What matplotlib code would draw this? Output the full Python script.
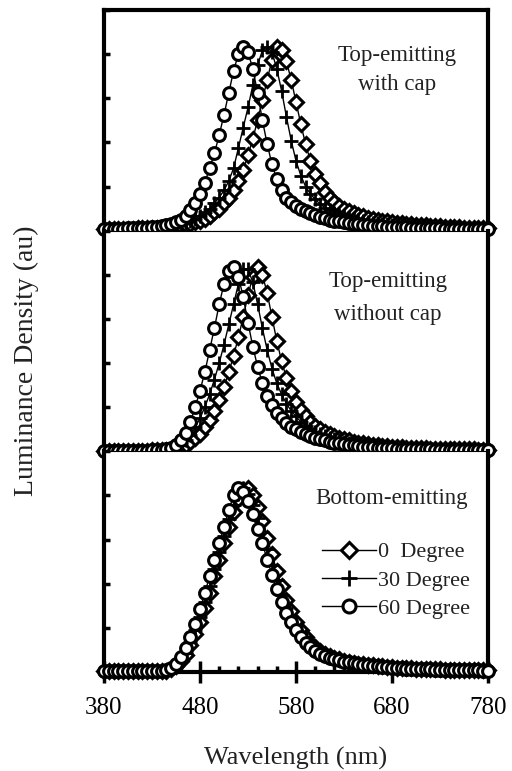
import numpy as np
import matplotlib
matplotlib.use("Agg")
import matplotlib.pyplot as plt
from matplotlib.ticker import MultipleLocator, FixedLocator

plt.rcParams["font.family"] = ["Liberation Serif", "DejaVu Serif"]

# wavelength grid (nm), 5 nm steps from 380 to 780
wavelength = np.arange(380, 785, 5)

# ---- Top-emitting with cap ----
cap_0deg = [
    .010, .010, .010, .010, .010, .010, .010, .012, .012, .013,
    .014, .015, .017, .019, .021, .024, .028, .032, .038, .045,
    .055, .065, .080, .100, .120, .150, .180, .220, .270, .330,
    .410, .500, .600, .710, .820, .930, 1.00, .980, .920, .820,
    .700, .580, .470, .380, .310, .260, .210, .180, .155, .135,
    .120, .105, .095, .085, .078, .070, .065, .060, .055, .050,
    .047, .044, .041, .038, .035, .033, .031, .029, .027, .025,
    .023, .022, .020, .019, .018, .017, .016, .015, .014, .013,
    .012]
cap_30deg = [
    .010, .010, .010, .010, .010, .010, .011, .012, .013, .014,
    .016, .018, .020, .023, .026, .030, .036, .044, .054, .066,
    .080, .100, .120, .150, .180, .220, .270, .340, .450, .560,
    .670, .790, .900, .980, 1.00, .970, .880, .760, .620, .490,
    .380, .300, .240, .200, .170, .145, .125, .110, .097, .087,
    .078, .070, .063, .057, .052, .048, .044, .041, .038, .035,
    .033, .031, .029, .027, .025, .024, .022, .021, .020, .019,
    .018, .017, .016, .015, .014, .014, .013, .012, .012, .011,
    .011]
cap_60deg = [
    .010, .010, .010, .010, .010, .012, .012, .014, .015, .017,
    .020, .022, .025, .030, .035, .045, .060, .080, .110, .150,
    .200, .260, .340, .420, .520, .630, .750, .870, .960, 1.00,
    .970, .880, .750, .600, .470, .360, .280, .220, .180, .155,
    .135, .120, .105, .095, .085, .075, .068, .060, .055, .050,
    .045, .041, .038, .035, .032, .030, .028, .026, .024, .022,
    .021, .020, .019, .018, .017, .016, .015, .014, .013, .012,
    .012, .011, .010, .010, .010, .009, .009, .008, .008, .008,
    .008]

# ---- Top-emitting without cap ----
nocap_0deg = [
    .003, .003, .003, .003, .003, .003, .003, .003, .004, .004,
    .005, .006, .007, .008, .012, .018, .026, .036, .050, .070,
    .095, .130, .170, .220, .280, .350, .430, .520, .620, .730,
    .850, .950, 1.00, .960, .860, .730, .600, .490, .400, .330,
    .270, .225, .190, .160, .140, .120, .105, .093, .083, .074,
    .066, .059, .053, .048, .043, .039, .036, .033, .030, .028,
    .026, .024, .022, .020, .019, .018, .017, .016, .015, .014,
    .013, .013, .012, .011, .011, .010, .010, .010, .009, .009,
    .009]
nocap_30deg = [
    .003, .003, .003, .003, .003, .003, .003, .003, .004, .004,
    .005, .006, .008, .010, .015, .025, .040, .060, .090, .130,
    .180, .240, .310, .390, .480, .580, .690, .800, .910, .990,
    .990, .920, .800, .670, .550, .450, .370, .310, .260, .220,
    .190, .160, .140, .120, .105, .093, .083, .074, .066, .059,
    .053, .048, .043, .039, .035, .032, .029, .027, .025, .023,
    .021, .019, .018, .017, .016, .015, .014, .013, .012, .012,
    .011, .011, .010, .010, .009, .009, .009, .008, .008, .008,
    .008]
nocap_60deg = [
    .003, .003, .003, .003, .003, .003, .003, .003, .004, .004,
    .005, .006, .008, .012, .020, .035, .060, .100, .160, .240,
    .330, .430, .550, .670, .800, .910, .980, 1.00, .950, .840,
    .700, .570, .460, .370, .300, .250, .210, .180, .155, .135,
    .120, .105, .093, .083, .074, .066, .059, .053, .048, .043,
    .039, .035, .032, .029, .026, .024, .022, .020, .018, .017,
    .016, .015, .014, .013, .012, .011, .011, .010, .010, .009,
    .009, .008, .008, .008, .007, .007, .007, .006, .006, .006,
    .006]

# ---- Bottom-emitting ----
bottom_0deg = [
    .005, .005, .005, .005, .005, .005, .005, .005, .005, .005,
    .005, .005, .005, .007, .014, .030, .058, .095, .145, .205,
    .270, .350, .430, .520, .610, .700, .790, .870, .940, .990,
    1.00, .960, .900, .820, .730, .640, .550, .470, .390, .330,
    .270, .230, .190, .160, .135, .115, .100, .087, .077, .069,
    .062, .056, .051, .046, .042, .039, .036, .033, .031, .028,
    .026, .024, .022, .021, .020, .019, .018, .017, .016, .015,
    .014, .013, .012, .012, .011, .011, .010, .010, .009, .009,
    .009]
bottom_30deg = [
    .005, .005, .005, .005, .005, .005, .005, .005, .005, .005,
    .005, .005, .005, .008, .018, .038, .070, .110, .165, .230,
    .300, .380, .470, .560, .650, .740, .830, .910, .970, 1.00,
    .970, .910, .840, .760, .670, .580, .500, .420, .350, .300,
    .250, .210, .175, .150, .125, .108, .094, .083, .074, .066,
    .060, .054, .049, .045, .041, .038, .035, .032, .030, .027,
    .025, .023, .021, .020, .019, .018, .017, .016, .015, .014,
    .013, .012, .012, .011, .011, .010, .010, .009, .009, .009,
    .008]
bottom_60deg = [
    .005, .005, .005, .005, .005, .005, .005, .005, .005, .005,
    .005, .005, .006, .010, .020, .045, .080, .130, .190, .260,
    .340, .430, .520, .610, .700, .790, .880, .960, 1.00, .980,
    .930, .860, .780, .700, .610, .530, .450, .380, .320, .270,
    .230, .190, .160, .135, .115, .100, .088, .078, .070, .063,
    .057, .052, .047, .043, .039, .036, .033, .030, .028, .026,
    .024, .022, .020, .019, .018, .017, .016, .015, .014, .013,
    .012, .012, .011, .011, .010, .010, .009, .009, .009, .008,
    .008]

panels = [
    ("Top-emitting\nwith cap", [cap_0deg, cap_30deg, cap_60deg]),
    ("Top-emitting\nwithout cap", [nocap_0deg, nocap_30deg, nocap_60deg]),
    ("Bottom-emitting", [bottom_0deg, bottom_30deg, bottom_60deg]),
]
angle_labels = ["0  Degree", "30 Degree", "60 Degree"]
markers = ["D", "+", "o"]
xticks = [380, 480, 580, 680, 780]
text_pos = [(0.763, 0.728, 1.55), (0.74, 0.695, 1.7), (0.75, 0.788, 1.2)]

fig = plt.figure(figsize=(5.12, 7.71), dpi=100)
left, right = 104 / 512, 488 / 512
bottom, top = 1 - 672 / 771, 1 - 10 / 771
h = (top - bottom) / 3

axes = []
for i, (title, series) in enumerate(panels):
    ax = fig.add_axes([left, top - (i + 1) * h, right - left, h])
    axes.append(ax)
    for vals, mk, lab in zip(series, markers, angle_labels):
        if mk == "+":
            ax.plot(wavelength, vals, color="black", lw=1.0, marker="+",
                    ms=10, mew=2.0, label=lab, clip_on=False, zorder=3)
        else:
            ax.plot(wavelength, vals, color="black", lw=1.0, marker=mk,
                    ms=8.5 if mk == "o" else 7.5, mfc="white", mec="black",
                    mew=2.2, label=lab, clip_on=False, zorder=3)
    ax.set_xlim(380, 780)
    ax.set_ylim(0, 1.2)
    ax.yaxis.set_major_locator(MultipleLocator(0.24))
    ax.tick_params(axis="y", which="major", direction="in", length=4,
                   width=2.5, left=True, right=False, labelleft=False)
    tx, ty, ls = text_pos[i]
    ax.text(tx, ty, title, transform=ax.transAxes, ha="center", va="center",
            fontsize=16.5, color="#222222", linespacing=ls)

    for side in ["left", "right"]:
        ax.spines[side].set_linewidth(3)
    ax.spines["top"].set_linewidth(3 if i == 0 else 0.8)
    ax.spines["bottom"].set_linewidth(3 if i == 2 else 0.8)

    if i < 2:
        ax.tick_params(axis="x", which="both", bottom=False, top=False,
                       labelbottom=False)

ax = axes[-1]
ax.xaxis.set_major_locator(FixedLocator(xticks))
ax.xaxis.set_minor_locator(FixedLocator(list(range(380, 781, 20))))
ax.tick_params(axis="x", which="major", direction="inout", length=16,
               width=2.5, pad=10, labelsize=18, top=False)
ax.tick_params(axis="x", which="minor", direction="in", length=4,
               width=2.5, top=False)

leg = ax.legend(loc="upper left", bbox_to_anchor=(0.54, 0.64), frameon=False,
                fontsize=16, handlelength=2.4, handletextpad=0.1,
                labelspacing=0.35, borderpad=0, markerscale=1.1)
for t in leg.get_texts():
    t.set_color("#222222")

fig.text(26 / 512, 1 - 361 / 771, "Luminance Density (au)", rotation=90,
         ha="center", va="center", fontsize=20, color="#222222")
fig.text((left + right) / 2, 1 - 758 / 771, "Wavelength (nm)",
         ha="center", va="center", fontsize=19, color="#222222")

fig.savefig("out.png", dpi=100)
